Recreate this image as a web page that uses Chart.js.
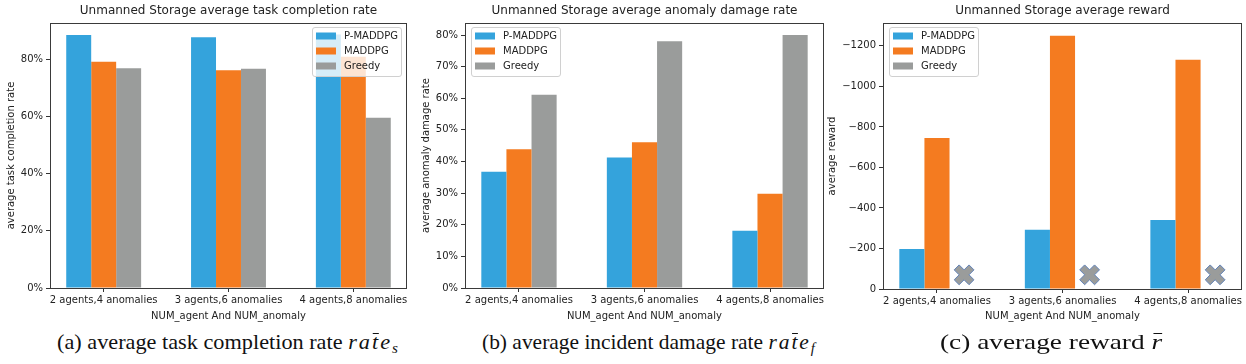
<!DOCTYPE html>
<html><head><meta charset="utf-8">
<script src="https://cdn.jsdelivr.net/npm/chart.js@4/dist/chart.umd.min.js"></script>
<style>
html,body{margin:0;padding:0;background:#fff}
body{width:1246px;height:364px;position:relative;overflow:hidden}
.pane{position:absolute;top:0;height:324px}
.cap{position:absolute;top:331px;font-family:"Liberation Serif","Times New Roman",serif;font-size:22px;line-height:22px;color:#111;white-space:nowrap;transform-origin:0 0}
.mi{font-style:italic;letter-spacing:2px}
.bt{position:relative}
.bt::after{content:'';position:absolute;left:1px;right:1px;top:4px;border-top:1.2px solid #111}
.br{position:relative;font-style:italic}
.br::after{content:'';position:absolute;left:2px;right:0px;top:4px;border-top:1.2px solid #111}
.sub{font-style:italic;font-size:15px;vertical-align:-4px}
</style></head><body>
<div class="pane" style="left:0;width:415px"><canvas id="ca" width="415" height="324"></canvas></div>
<div class="pane" style="left:415px;width:415px"><canvas id="cb" width="415" height="324"></canvas></div>
<div class="pane" style="left:825px;width:421px"><canvas id="cc" width="421" height="324"></canvas></div>
<div class="cap" id="capA" style="left:57px" data-w="341">(a) average task completion rate <span class="mi">ra<span class="bt">t</span>e</span><span class="sub">s</span></div>
<div class="cap" id="capB" style="left:482px" data-w="333">(b) average incident damage rate <span class="mi">ra<span class="bt">t</span>e</span><span class="sub">f</span></div>
<div class="cap" id="capC" style="left:940px" data-w="222">(c) average reward <span class="br">r</span></div>
<script>
// ---------------- data ----------------
const categories = ['2 agents,4 anomalies', '3 agents,6 anomalies', '4 agents,8 anomalies'];
const seriesNames = ['P-MADDPG', 'MADDPG', 'Greedy'];

const completionP = [88.4, 87.6, 88.6];
const completionM = [79.1, 76.1, 80.8];
const completionG = [76.8, 76.6, 59.5];

const damageP = [36.8, 41.3, 18.1];
const damageM = [43.9, 46.1, 29.8];
const damageG = [61.1, 78.0, 80.0];

const rewardP = [-197, -292, -340];
const rewardM = [-745, -1250, -1132];
const rewardGreedyMarker = [-70, -70, -70];

const ticksA = [0, 20, 40, 60, 80];
const ticksB = [0, 10, 20, 30, 40, 50, 60, 70, 80];
const ticksC = [0, -200, -400, -600, -800, -1000, -1200];

// ---------------- styles ----------------
const colP = '#34a3dc', colM = '#f47b20', colG = '#9a9c9b';
const textCol = '#222';
Chart.defaults.font.family = '"DejaVu Sans", Verdana, sans-serif';
Chart.defaults.font.size = 10;
Chart.defaults.color = textCol;

// category scale with matplotlib-like edge margins
class PadCategoryScale extends Chart.CategoryScale {
  buildTicks() {
    const t = super.buildTicks();
    const inset = this.options.edgeInset || 0;
    this._startValue += inset;
    this._valueRange -= 2 * inset;
    return t;
  }
}
PadCategoryScale.id = 'padcategory';
PadCategoryScale.defaults = Chart.CategoryScale.defaults;
Chart.register(PadCategoryScale);

function drawXMarker(ctx, cx, cy, s, fill, edge) {
  const pts = [[-1,-3],[1,-3],[1,-1],[3,-1],[3,1],[1,1],[1,3],[-1,3],[-1,1],[-3,1],[-3,-1],[-1,-1]];
  const c = Math.SQRT1_2;
  ctx.save();
  ctx.beginPath();
  pts.forEach((p, i) => {
    const x = p[0] * s / 6, y = p[1] * s / 6;
    const rx = cx + (x - y) * c, ry = cy + (x + y) * c;
    if (i === 0) ctx.moveTo(rx, ry); else ctx.lineTo(rx, ry);
  });
  ctx.closePath();
  ctx.fillStyle = fill; ctx.fill();
  ctx.lineWidth = 1; ctx.strokeStyle = edge; ctx.stroke();
  ctx.restore();
}

const framePlugin = {
  id: 'frame',
  beforeDatasetDraw(chart, args) {
    if (chart.data.datasets[args.index].markerX) return false;
  },
  afterDatasetsDraw(chart) {
    const ctx = chart.ctx;
    chart.data.datasets.forEach((ds, i) => {
      if (!ds.markerX) return;
      chart.getDatasetMeta(i).data.forEach(el => {
        drawXMarker(ctx, el.x + 2, el.y, 21, ds.backgroundColor, '#6283b8');
      });
    });
  },
  afterDraw(chart, args, opts) {
    const ctx = chart.ctx, a = chart.chartArea;
    ctx.save();
    ctx.strokeStyle = '#3a3a3a';
    ctx.lineWidth = 1;
    ctx.strokeRect(Math.round(a.left) + 0.5, Math.round(a.top) + 0.5, Math.round(a.right - a.left) - 1, Math.round(a.bottom - a.top));
    // legend
    const bw = 89, bh = 49;
    const bx = opts.legendAlign === 'right' ? a.right - 6 - bw : a.left + 6;
    const by = a.top + 4;
    ctx.beginPath();
    ctx.roundRect(bx + 0.5, by + 0.5, bw, bh, 2.5);
    ctx.fillStyle = 'rgba(255,255,255,0.8)';
    ctx.fill();
    ctx.strokeStyle = '#d0d0d0';
    ctx.stroke();
    ctx.font = '10px "DejaVu Sans", Verdana, sans-serif';
    ctx.textBaseline = 'middle';
    ctx.textAlign = 'left';
    chart.data.datasets.forEach((ds, i) => {
      const yy = by + 9 + i * 15;
      ctx.fillStyle = ds.backgroundColor;
      ctx.fillRect(bx + 4, yy - 3.5, 20, 7);
      ctx.fillStyle = textCol;
      ctx.fillText(ds.label, bx + 32, yy);
    });
    ctx.restore();
  }
};

function makeChart(id, opt) {
  const sets = opt.values.map((v, i) => ({
    label: seriesNames[i],
    data: v,
    backgroundColor: [colP, colM, colG][i],
    borderWidth: 0,
    markerX: !!(opt.markerSeries === i)
  }));
  return new Chart(document.getElementById(id), {
    type: 'bar',
    data: { labels: categories, datasets: sets },
    plugins: [framePlugin],
    options: {
      responsive: false,
      animation: false,
      events: [],
      layout: { padding: { left: 0, right: opt.padRight, top: 0, bottom: 0 } },
      datasets: { bar: { categoryPercentage: 0.6, barPercentage: 1.0 } },
      plugins: {
        legend: { display: false },
        tooltip: { enabled: false },
        title: { display: true, text: opt.title, fullSize: false, color: textCol,
                 font: { size: 12, weight: 'normal' }, padding: { top: 4, bottom: 4.6 } },
        frame: { legendAlign: opt.legendAlign }
      },
      scales: {
        x: {
          type: 'padcategory', offset: true, edgeInset: 0.07,
          grid: { offset: false, drawOnChartArea: false, tickLength: 4, color: '#333' },
          border: { display: false },
          ticks: { padding: 2, maxRotation: 0, autoSkip: false, color: textCol },
          title: { display: true, text: 'NUM_agent And NUM_anomaly', color: textCol, font: { size: 10 }, padding: { top: 0, bottom: 2 } },
          afterFit: s => { s.height = 324 - opt.bottom; }
        },
        y: {
          min: opt.min, max: opt.max, reverse: !!opt.reverse,
          afterBuildTicks: s => { s.ticks = opt.ticks.map(v => ({ value: v })); },
          grid: { drawOnChartArea: false, tickLength: 4, color: '#333' },
          border: { display: false },
          ticks: { padding: 3, color: textCol, callback: opt.fmt },
          title: { display: true, text: opt.ytitle, color: textCol, font: { size: 10 }, padding: { top: opt.ytPad, bottom: 0 } },
          afterFit: s => { s.width = opt.yWidth; }
        }
      }
    }
  });
}

const pct = v => v + '%';
makeChart('ca', {
  title: 'Unmanned Storage average task completion rate',
  values: [completionP, completionM, completionG],
  min: 0, max: 92.6, ticks: ticksA, fmt: pct,
  ytitle: 'average task completion rate', ytPad: 5.5, yWidth: 50, padRight: 8, bottom: 288,
  legendAlign: 'right'
});
makeChart('cb', {
  title: 'Unmanned Storage average anomaly damage rate',
  values: [damageP, damageM, damageG],
  min: 0, max: 83.8, ticks: ticksB, fmt: pct,
  ytitle: 'average anomaly damage rate', ytPad: 5.5, yWidth: 50, padRight: 6, bottom: 288,
  legendAlign: 'left'
});
makeChart('cc', {
  title: 'Unmanned Storage average reward',
  values: [rewardP, rewardM, rewardGreedyMarker],
  markerSeries: 2,
  min: -1313, max: 0, reverse: true, ticks: ticksC,
  fmt: v => v === 0 ? '0' : '\u2212' + Math.abs(v),
  ytitle: 'average reward', ytPad: 1.5, yWidth: 58, padRight: 4, bottom: 289,
  legendAlign: 'left'
});

// fit caption widths to the reference's horizontally condensed captions
document.querySelectorAll('.cap').forEach(el => {
  const w = el.getBoundingClientRect().width;
  const target = +el.dataset.w;
  el.style.transform = 'scaleX(' + (target / w).toFixed(3) + ')';
});
</script>
</body></html>
